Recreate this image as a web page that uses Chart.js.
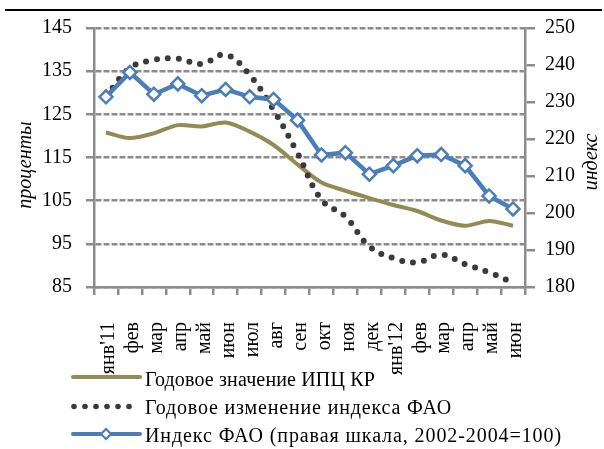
<!DOCTYPE html>
<html>
<head>
<meta charset="utf-8">
<script src="https://cdn.jsdelivr.net/npm/chart.js@4/dist/chart.umd.min.js"></script>
<style>
    html, body { margin: 0; padding: 0; background: #fff; }
    #wrap { position: relative; width: 604px; height: 449px; }
</style>
</head>
<body>
<div id="wrap"><canvas id="chartFao"></canvas></div>
<script>
"use strict";

// data
const months = ["янв'11", "фев", "мар", "апр", "май", "июн", "июл", "авг", "сен",
    "окт", "ноя", "дек", "янв'12", "фев", "мар", "апр", "май", "июн"];
const cpiKR = [120.8, 119.5, 120.6, 122.5, 122.2, 123.1, 121.0, 117.9, 113.4,
    109.2, 107.3, 105.6, 104.0, 102.6, 100.4, 99.2, 100.3, 99.2];
const faoChange = [129.1, 135.7, 137.6, 137.9, 136.7, 138.8, 134.1, 126.0, 116.0,
    105.2, 101.3, 94.4, 91.7, 90.7, 92.5, 90.3, 88.4, 86.0];
const faoIndex = [231.4, 238.0, 232.1, 234.9, 231.7, 233.4, 231.4, 230.7, 225.1,
    215.7, 216.3, 210.5, 212.8, 215.5, 215.8, 212.8, 204.6, 201.1];
const leftTicks = [85, 95, 105, 115, 125, 135, 145];
const rightTicks = [180, 190, 200, 210, 220, 230, 240, 250];
const seriesNames = [
    "Годовое значение ИПЦ КР",
    "Годовое изменение индекса ФАО",
    "Индекс ФАО (правая шкала, 2002-2004=100)",
];

const colors = {
    khaki: "#948a54",
    dots: "#3a3a3a",
    blue: "#4a7ebb",
    axis: "#8c8c8c",
};
const serif = "'Liberation Serif', 'Times New Roman', serif";

// legend, axis titles and top rule
const extras = {
    id: "extras",
    afterDraw(chart) {
        const ctx = chart.ctx;
        ctx.save();
        ctx.fillStyle = "#000";
        ctx.fillRect(5, 9, 597, 2);

        ctx.font = "italic 20px " + serif;
        ctx.textAlign = "center";
        ctx.textBaseline = "middle";
        [["проценты", 26, 165], ["индекс", 592, 162]].forEach(([t, x, y]) => {
            ctx.save();
            ctx.translate(x, y);
            ctx.rotate(-Math.PI / 2);
            ctx.fillText(t, 0, 0);
            ctx.restore();
        });

        // row 1
        ctx.lineCap = "round";
        ctx.strokeStyle = colors.khaki;
        ctx.lineWidth = 4;
        ctx.beginPath();
        ctx.moveTo(73, 377);
        ctx.lineTo(140, 377);
        ctx.stroke();
        // row 2
        ctx.fillStyle = colors.dots;
        for (let k = 0; k < 6; k++) {
            ctx.beginPath();
            ctx.arc(74 + 11 * k, 406.5, 2.8, 0, Math.PI * 2);
            ctx.fill();
        }
        // row 3
        ctx.strokeStyle = colors.blue;
        ctx.lineWidth = 4;
        ctx.beginPath();
        ctx.moveTo(73, 434);
        ctx.lineTo(140, 434);
        ctx.stroke();
        ctx.fillStyle = "#fff";
        ctx.lineWidth = 2.2;
        ctx.beginPath();
        ctx.moveTo(106, 429);
        ctx.lineTo(111, 434);
        ctx.lineTo(106, 439);
        ctx.lineTo(101, 434);
        ctx.closePath();
        ctx.fill();
        ctx.stroke();

        // text rows, stretched to the widths seen in the picture
        ctx.font = "20px " + serif;
        ctx.textAlign = "left";
        ctx.textBaseline = "alphabetic";
        ctx.fillStyle = "#000";
        const rows = [[386, 375], [414, 452], [442, 562]];
        rows.forEach(([y, endX], i) => {
            const t = seriesNames[i];
            ctx.letterSpacing = "0px";
            const w = ctx.measureText(t).width;
            const extra = Math.max(0, (endX - 145 - w) / t.length);
            ctx.letterSpacing = extra.toFixed(2) + "px";
            ctx.fillText(t, 145, y);
        });
        ctx.restore();
    },
};

const ctx = document.getElementById("chartFao").getContext("2d");
const chartFao = new Chart(ctx, {
    type: "line",
    data: {
        labels: months,
        datasets: [
            {
                label: seriesNames[0],
                data: cpiKR,
                yAxisID: "y",
                borderColor: colors.khaki,
                borderWidth: 4,
                tension: 0.3,
                pointRadius: 0,
                order: 2,
            },
            {
                label: seriesNames[1],
                data: faoChange,
                yAxisID: "y",
                borderColor: colors.dots,
                borderWidth: 6,
                borderDash: [0, 11],
                borderCapStyle: "round",
                tension: 0.4,
                pointRadius: 0,
                order: 1,
            },
            {
                label: seriesNames[2],
                data: faoIndex,
                yAxisID: "y1",
                borderColor: colors.blue,
                borderWidth: 4.5,
                tension: 0,
                pointStyle: "rectRot",
                pointRadius: 6.5,
                pointBorderWidth: 2.5,
                pointBackgroundColor: "#fff",
                pointBorderColor: colors.blue,
                order: 0,
            },
        ],
    },
    options: {
        responsive: true,
        maintainAspectRatio: false,
        animation: false,
        layout: { padding: { top: 28, left: 0, right: 0, bottom: 0 } },
        plugins: {
            legend: { display: false },
            tooltip: { enabled: false },
        },
        scales: {
            x: {
                offset: true,
                grid: {
                    offset: true,
                    drawOnChartArea: false,
                    color: colors.axis,
                    lineWidth: 2.5,
                    tickLength: 8,
                },
                border: { color: colors.axis, width: 2.5 },
                ticks: {
                    autoSkip: false,
                    minRotation: 90,
                    maxRotation: 90,
                    padding: 27,
                    labelOffset: 3,
                    color: "#000",
                    font: { family: serif, size: 20 },
                },
                afterFit: (s) => { s.height = 162; },
            },
            y: {
                position: "left",
                min: leftTicks[0],
                max: leftTicks[leftTicks.length - 1],
                afterBuildTicks: (s) => { s.ticks = leftTicks.map((v) => ({ value: v })); },
                grid: {
                    color: colors.axis,
                    lineWidth: 2.5,
                    tickLength: 8,
                },
                border: { color: colors.axis, width: 2.5, dash: [6, 2] },
                ticks: {
                    padding: 14,
                    color: "#000",
                    font: { family: serif, size: 20 },
                },
                afterFit: (s) => { s.width = 94; },
            },
            y1: {
                position: "right",
                min: rightTicks[0],
                max: rightTicks[rightTicks.length - 1],
                afterBuildTicks: (s) => { s.ticks = rightTicks.map((v) => ({ value: v })); },
                grid: {
                    drawOnChartArea: false,
                    color: colors.axis,
                    lineWidth: 2.5,
                    tickLength: 10,
                },
                border: { color: colors.axis, width: 2.5 },
                ticks: {
                    padding: 10,
                    color: "#000",
                    font: { family: serif, size: 20 },
                },
                afterFit: (s) => { s.width = 79; },
            },
        },
    },
    plugins: [extras],
});
</script>
</body>
</html>
